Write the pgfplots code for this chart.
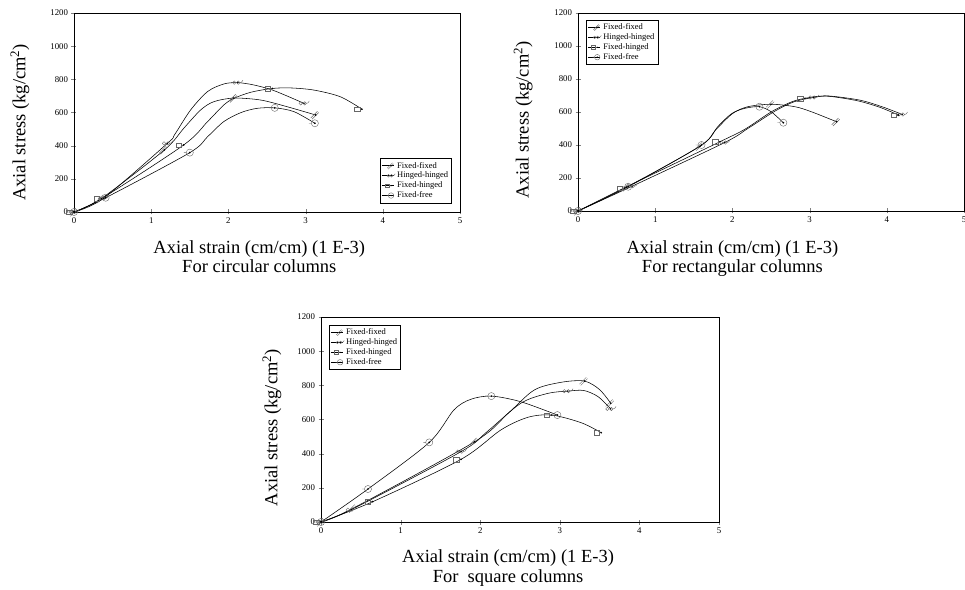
\documentclass[border=0pt]{standalone}
\usepackage{fontspec}
\setmainfont{Liberation Serif}
\usepackage{pgfplots}
\pgfplotsset{compat=1.18}

\pgfdeclareplotmark{pencil}{%
  \pgfpathmoveto{\pgfqpoint{-1.6\pgfplotmarksize}{-1.0\pgfplotmarksize}}%
  \pgfpathlineto{\pgfqpoint{0.6\pgfplotmarksize}{1.2\pgfplotmarksize}}%
  \pgfpathmoveto{\pgfqpoint{-1.2\pgfplotmarksize}{-1.4\pgfplotmarksize}}%
  \pgfpathlineto{\pgfqpoint{1.0\pgfplotmarksize}{0.8\pgfplotmarksize}}%
  \pgfusepathqstroke
  \pgfpathcircle{\pgfpointorigin}{0.3\pgfplotmarksize}\pgfusepathqfill}
\pgfdeclareplotmark{glasses}{%
  \pgfpathcircle{\pgfqpoint{-1.1\pgfplotmarksize}{0pt}}{0.55\pgfplotmarksize}%
  \pgfpathcircle{\pgfqpoint{0.2\pgfplotmarksize}{0pt}}{0.55\pgfplotmarksize}%
  \pgfpathmoveto{\pgfqpoint{0.75\pgfplotmarksize}{0pt}}%
  \pgfpathlineto{\pgfqpoint{1.3\pgfplotmarksize}{0.2\pgfplotmarksize}}%
  \pgfpathlineto{\pgfqpoint{1.7\pgfplotmarksize}{0.8\pgfplotmarksize}}%
  \pgfusepathqstroke
  \pgfpathcircle{\pgfpointorigin}{0.25\pgfplotmarksize}\pgfusepathqfill}
\pgfdeclareplotmark{sqm}{%
  \pgfpathrectangle{\pgfqpoint{-2.4\pgfplotmarksize}{-0.8\pgfplotmarksize}}{\pgfqpoint{1.7\pgfplotmarksize}{1.5\pgfplotmarksize}}%
  \pgfpathmoveto{\pgfqpoint{-0.7\pgfplotmarksize}{0pt}}%
  \pgfpathlineto{\pgfpointorigin}%
  \pgfusepathqstroke
  \pgfpathcircle{\pgfpointorigin}{0.3\pgfplotmarksize}\pgfusepathqfill}
\pgfdeclareplotmark{circm}{%
  \pgfpathcircle{\pgfpointorigin}{1.15\pgfplotmarksize}%
  \pgfpathmoveto{\pgfqpoint{-1.9\pgfplotmarksize}{0pt}}%
  \pgfpathlineto{\pgfqpoint{-1.15\pgfplotmarksize}{0pt}}%
  \pgfusepathqstroke
  \pgfpathcircle{\pgfpointorigin}{0.3\pgfplotmarksize}\pgfusepathqfill}

\pgfplotsset{
  ffs/.style={black, line width=0.55pt, smooth, mark=pencil, mark size=3.1pt, mark options={draw=black!60, fill=black, line width=0.4pt}},
  hhs/.style={black, line width=0.55pt, smooth, mark=glasses, mark size=3.1pt, mark options={draw=black!60, fill=black, line width=0.4pt}},
  fhs/.style={black, line width=0.55pt, smooth, mark=sqm, mark size=3.1pt, mark options={draw=black!60, fill=black, line width=0.4pt}},
  frs/.style={black, line width=0.55pt, smooth, mark=circm, mark size=3.1pt, mark options={draw=black!60, fill=black, line width=0.4pt}},
  myaxis/.style={
    scale only axis, anchor=south west,
    xmin=0, xmax=5, ymin=0, ymax=1200,
    xtick={0,1,2,3,4,5}, ytick={0,200,400,600,800,1000,1200},
    tick align=center, tick pos=left, major tick length=5pt,
    tick label style={font=\fontsize{8.8}{10}\selectfont},
    /pgf/number format/assume math mode=true,
    /pgf/number format/1000 sep={},
    axis line style={line width=0.6pt},
    label style={font=\fontsize{18.5}{19.5}\selectfont},
    xlabel style={anchor=north, align=center},
    ylabel style={anchor=center},
    legend style={font=\fontsize{8.5}{10}\selectfont, draw=black, line width=0.5pt, inner sep=1.5pt, row sep=-1.5pt},
    legend cell align=left,
    legend image code/.code={\draw[mark repeat=2,mark phase=2,mark size=2.4pt,##1] plot coordinates {(0cm,0cm)(0.32cm,0cm)(0.4cm,0cm)};},
  }
}

\begin{document}
\begin{tikzpicture}
\useasboundingbox (0,0) rectangle (965pt,589pt);

% ---------------- circular ----------------
\begin{axis}[myaxis, at={(74pt,377pt)}, width=386pt, height=199pt,
  xlabel={Axial strain (cm/cm) (1 E-3)\\For circular columns},
  ylabel={Axial stress (kg/cm\textsuperscript{2})},
  xlabel style={at={(axis description cs:0.48,-0.125)}},
  ylabel style={at={(axis description cs:-0.14,0.45)}},
  legend style={at={(0.979,0.045)}, anchor=south east}]
\addplot[ffs, mark indices={1,2,3,7,10}, forget plot] coordinates {(0,0)(0.35,80)(1.17,374)(1.42,504)(1.64,615)(1.81,665)(2.07,687)(2.42,675)(2.76,635)(3.13,585)};
\addplot[hhs, mark indices={1,2,3,8,11}, forget plot] coordinates {(0,0)(0.38,82)(1.21,414)(1.30,464)(1.51,615)(1.73,726)(1.94,772)(2.12,780)(2.33,766)(2.59,732)(2.98,655)};
\addplot[fhs, mark indices={1,2,3,8,12}, forget plot] coordinates {(0,0)(0.36,82)(1.42,404)(1.73,545)(1.94,645)(2.07,685)(2.29,722)(2.57,745)(2.81,748)(3.11,735)(3.45,695)(3.73,620)};
\addplot[frs, mark indices={1,2,3,8,10}, forget plot] coordinates {(0,0)(0.41,86)(1.50,358)(1.73,454)(1.94,545)(2.16,599)(2.37,625)(2.60,628)(2.85,605)(3.12,535)};
\addlegendimage{ffs}\addlegendentry{Fixed-fixed}
\addlegendimage{hhs}\addlegendentry{Hinged-hinged}
\addlegendimage{fhs}\addlegendentry{Fixed-hinged}
\addlegendimage{frs}\addlegendentry{Fixed-free}
\end{axis}

% ---------------- rectangular ----------------
\begin{axis}[myaxis, at={(578pt,378pt)}, width=386pt, height=198pt,
  xlabel={Axial strain (cm/cm) (1 E-3)\\For rectangular columns},
  ylabel={Axial stress (kg/cm\textsuperscript{2})},
  xlabel style={at={(axis description cs:0.40,-0.13)}},
  ylabel style={at={(axis description cs:-0.142,0.46)}},
  legend style={at={(0.021,0.965)}, anchor=north west}]
\addplot[ffs, mark indices={1,2,3,7,10}, forget plot] coordinates {(0,0)(0.63,145)(1.58,392)(1.78,490)(2.0,590)(2.2,632)(2.5,647)(2.81,632)(3.02,602)(3.35,541)};
\addplot[hhs, mark indices={1,2,3,7,11}, forget plot] coordinates {(0,0)(0.7,150)(1.9,415)(2.2,500)(2.55,605)(2.8,662)(3.05,688)(3.25,697)(3.65,672)(3.95,630)(4.2,585)};
\addplot[fhs, mark indices={1,2,3,7,11}, forget plot] coordinates {(0,0)(0.6,140)(1.84,420)(2.16,495)(2.5,600)(2.76,660)(2.94,683)(3.2,697)(3.6,670)(3.9,630)(4.15,582)};
\addplot[frs, mark indices={1,2,3,7,9}, forget plot] coordinates {(0,0)(0.65,147)(1.60,400)(1.81,511)(1.99,590)(2.16,622)(2.35,632)(2.50,602)(2.66,535)};
\addlegendimage{ffs}\addlegendentry{Fixed-fixed}
\addlegendimage{hhs}\addlegendentry{Hinged-hinged}
\addlegendimage{fhs}\addlegendentry{Fixed-hinged}
\addlegendimage{frs}\addlegendentry{Fixed-free}
\end{axis}

% ---------------- square ----------------
\begin{axis}[myaxis, at={(321pt,67pt)}, width=398pt, height=205pt,
  xlabel={Axial strain (cm/cm) (1 E-3)\\For\ \ square columns},
  ylabel={Axial stress (kg/cm\textsuperscript{2})},
  xlabel style={at={(axis description cs:0.47,-0.12)}},
  ylabel style={at={(axis description cs:-0.123,0.46)}},
  legend style={at={(0.02,0.961)}, anchor=north west}]
\addplot[ffs, mark indices={1,2,3,7,9}, forget plot] coordinates {(0,0)(0.4,80)(1.93,470)(2.35,636)(2.68,773)(3.02,818)(3.31,825)(3.5,775)(3.64,695)};
\addplot[hhs, mark indices={1,2,3,7,10}, forget plot] coordinates {(0,0)(0.38,72)(1.76,412)(2.09,530)(2.51,695)(2.85,753)(3.1,766)(3.3,770)(3.48,734)(3.64,662)};
\addplot[fhs, mark indices={1,2,3,6,8}, forget plot] coordinates {(0,0)(0.65,119)(1.76,367)(2.26,539)(2.6,613)(2.9,626)(3.27,581)(3.52,523)};
\addplot[frs, mark indices={1,2,3,6,8}, forget plot] coordinates {(0,0)(0.59,193)(1.36,466)(1.67,656)(1.88,718)(2.14,737)(2.51,704)(2.97,626)};
\addlegendimage{ffs}\addlegendentry{Fixed-fixed}
\addlegendimage{hhs}\addlegendentry{Hinged-hinged}
\addlegendimage{fhs}\addlegendentry{Fixed-hinged}
\addlegendimage{frs}\addlegendentry{Fixed-free}
\end{axis}
\end{tikzpicture}
\end{document}
